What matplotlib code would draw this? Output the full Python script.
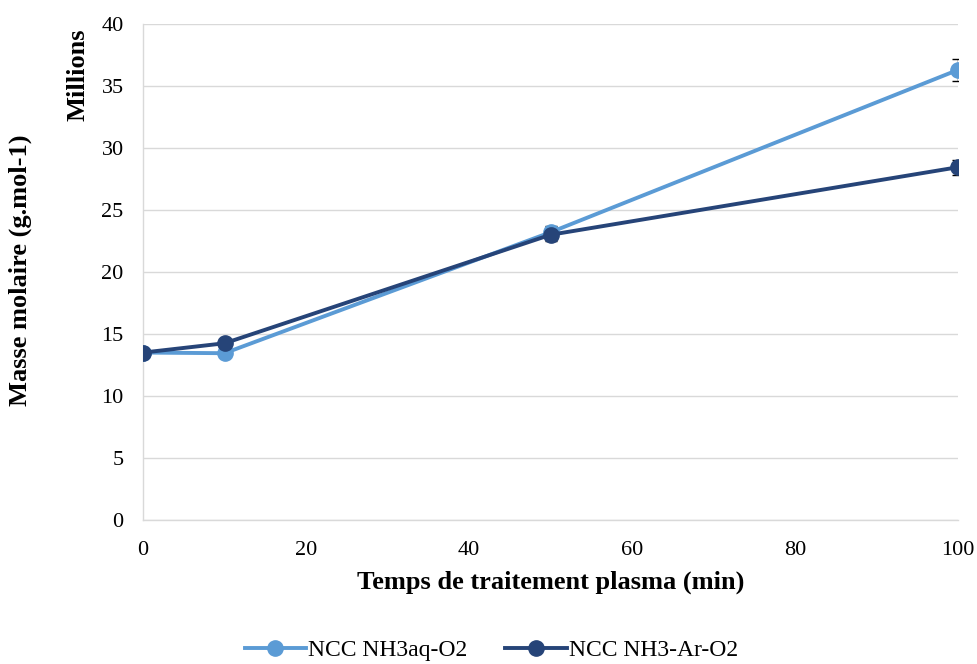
import matplotlib
matplotlib.use("Agg")
import matplotlib.pyplot as plt
from matplotlib.lines import Line2D

plt.rcParams['font.family'] = ['Liberation Serif', 'DejaVu Serif']

# Treatment time (min) and molar mass (millions g/mol)
time_min = [0, 10, 50, 100]
nh3aq_o2 = [13.5, 13.45, 23.2, 36.3]
nh3aq_o2_err = [0.0, 0.0, 0.5, 0.9]
nh3_ar_o2 = [13.5, 14.25, 23.0, 28.45]
nh3_ar_o2_err = [0.0, 0.0, 0.5, 0.6]
series_names = ["NCC NH3aq-O2", "NCC NH3-Ar-O2"]

light = "#5B9BD5"
dark = "#264478"

fig = plt.figure(figsize=(9.77, 6.64), dpi=100)
ax = fig.add_axes([0.1464, 0.2169, 0.8342, 0.747])

handles = []
for y, err, col, name in [(nh3aq_o2, nh3aq_o2_err, light, series_names[0]),
                          (nh3_ar_o2, nh3_ar_o2_err, dark, series_names[1])]:
    ax.errorbar(time_min, y, yerr=err, fmt='none', ecolor='black',
                elinewidth=1, capsize=4, capthick=1, zorder=2)
    ax.plot(time_min, y, color=col, lw=2.8, marker='o', ms=11, zorder=3)
    handles.append(Line2D([], [], color=col, lw=2.8, marker='o', ms=11, label=name))

ax.set_xlim(0, 100)
ax.set_ylim(0, 40)
ax.set_xticks(range(0, 101, 20))
ax.set_yticks(range(0, 41, 5))
ax.grid(axis='y', color='#D9D9D9', lw=1)
ax.set_axisbelow(True)
for s in ['top', 'right']:
    ax.spines[s].set_visible(False)
for s in ['left', 'bottom']:
    ax.spines[s].set_color('#D9D9D9')
    ax.spines[s].set_linewidth(1)
ax.tick_params(length=0, labelsize=16, colors='#000000')
ax.tick_params(axis='x', pad=15)
ax.tick_params(axis='y', pad=14)

ax.set_xlabel("Temps de traitement plasma (min)", fontsize=19, fontweight='bold', labelpad=8)
fig.text(0.021, 0.593, "Masse molaire (g.mol-1)", rotation=90, fontsize=19,
         fontweight='bold', ha='center', va='center')
fig.text(0.08, 0.887, "Millions", rotation=90, fontsize=19,
         fontweight='bold', ha='center', va='center')

fig.legend(handles=handles, loc='center', bbox_to_anchor=(0.503, 0.02),
           ncol=2, frameon=False, fontsize=17, handlelength=2.6,
           columnspacing=1.6, handletextpad=0.1)

fig.savefig("out.png", dpi=100)
